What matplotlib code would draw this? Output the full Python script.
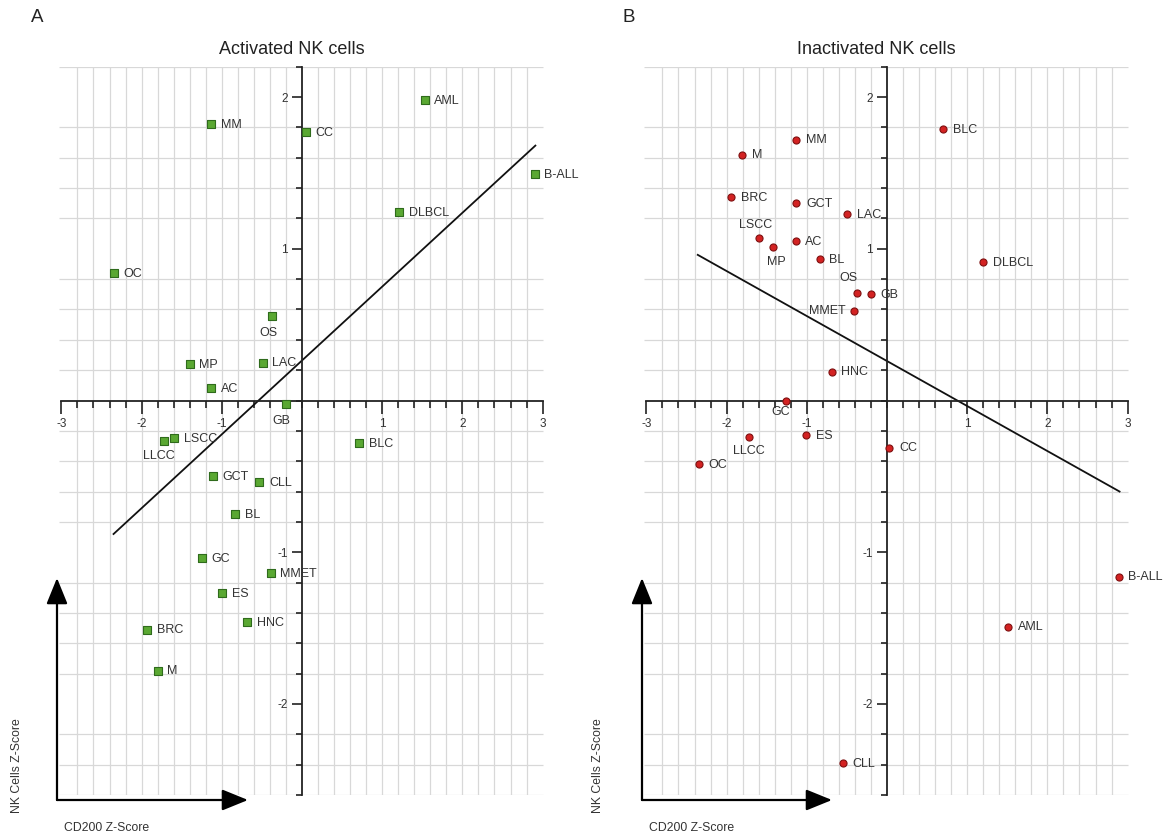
"""
CD200 vs NK cell Z-score scatter plots.

Two panels: activated NK cells (A) and inactivated NK cells (B),
each with a fitted line and a cross-shaped axis through the origin.
"""

import matplotlib
matplotlib.use("Agg")
import matplotlib.pyplot as plt
from matplotlib.ticker import FixedLocator
import numpy as np

plt.rcParams["font.family"] = ["Liberation Sans", "DejaVu Sans"]
plt.rcParams["axes.unicode_minus"] = False

# Panel A - activated NK cells
act_labels = ["AML", "MM", "CC", "B-ALL", "DLBCL", "OC", "OS", "MP", "LAC", "AC",
              "GB", "LLCC", "LSCC", "BLC", "GCT", "CLL", "BL", "GC", "MMET", "ES",
              "HNC", "BRC", "M"]
act_x = [1.53, -1.13, 0.05, 2.90, 1.21, -2.35, -0.37, -1.40, -0.49, -1.13,
         -0.20, -1.72, -1.59, 0.71, -1.11, -0.53, -0.83, -1.25, -0.39, -1.00,
         -0.68, -1.93, -1.80]
act_y = [1.98, 1.82, 1.77, 1.49, 1.24, 0.84, 0.56, 0.24, 0.25, 0.08,
         -0.02, -0.27, -0.25, -0.28, -0.50, -0.54, -0.75, -1.04, -1.14, -1.27,
         -1.46, -1.51, -1.78]
act_fit_x = [-2.35, 2.91]
act_fit_y = [-0.88, 1.68]

# Panel B - inactivated NK cells
inact_labels = ["BLC", "MM", "M", "BRC", "GCT", "LAC", "LSCC", "AC", "MP", "BL",
                "DLBCL", "OS", "GB", "MMET", "HNC", "GC", "ES", "LLCC", "CC", "OC",
                "B-ALL", "AML", "CLL"]
inact_x = [0.70, -1.13, -1.81, -1.94, -1.13, -0.50, -1.60, -1.14, -1.42, -0.84,
           1.20, -0.38, -0.20, -0.41, -0.69, -1.26, -1.01, -1.72, 0.03, -2.35,
           2.89, 1.51, -0.55]
inact_y = [1.79, 1.72, 1.62, 1.34, 1.30, 1.23, 1.07, 1.05, 1.01, 0.93,
           0.91, 0.71, 0.70, 0.59, 0.19, 0.00, -0.23, -0.24, -0.31, -0.42,
           -1.16, -1.49, -2.39]
inact_fit_x = [-2.36, 2.90]
inact_fit_y = [0.96, -0.60]

X_RANGE = (-3.0, 3.0)
Y_RANGE = (-2.6, 2.2)

# label placement tweaks (offset in points, ha, va); default is to the right
ACT_PLACE = {
    "OS": (-3, -8, "center", "top"),
    "GB": (-3, -8, "center", "top"),
    "LLCC": (-4, -6, "center", "top"),
}
INACT_PLACE = {
    "LSCC": (-2, 5, "center", "bottom"),
    "MP": (2, -6, "center", "top"),
    "OS": (-6, 6, "center", "bottom"),
    "MMET": (-6, 0, "right", "center"),
    "GC": (-4, -4, "center", "top"),
    "LLCC": (0, -6, "center", "top"),
}


def style_axes(ax: plt.Axes) -> None:
    """Draw the grid and the cross-shaped axis through the origin."""
    ax.set_xlim(-3.03, 3.03)
    ax.set_ylim(*Y_RANGE)

    grid_x = [v for v in np.round(np.arange(-2.8, 2.81, 0.2), 1) if v != 0]
    grid_y = [v for v in np.round(np.arange(-2.6, 2.21, 0.2), 1) if v != round(v)]
    ax.vlines(grid_x, *Y_RANGE, color="#d8d8d8", lw=0.9, zorder=0)
    ax.hlines(grid_y, -3.03, 3.0, color="#d8d8d8", lw=0.9, zorder=0)

    for side in ("top", "right"):
        ax.spines[side].set_visible(False)
    ax.spines["left"].set_position(("data", 0))
    ax.spines["bottom"].set_position(("data", 0))
    ax.spines["left"].set_bounds(*Y_RANGE)
    ax.spines["bottom"].set_bounds(*X_RANGE)
    for side in ("left", "bottom"):
        ax.spines[side].set_linewidth(1.3)
        ax.spines[side].set_color("#222222")

    ax.xaxis.set_major_locator(FixedLocator([-3, -2, -1, 1, 2, 3]))
    ax.xaxis.set_minor_locator(FixedLocator(np.round(np.arange(-2.8, 2.81, 0.2), 1)))
    ax.yaxis.set_major_locator(FixedLocator([-2, -1, 1, 2]))
    ax.yaxis.set_minor_locator(FixedLocator(np.round(np.arange(-2.6, 2.21, 0.2), 1)))
    ax.xaxis.set_major_formatter(lambda v, pos: f"{v:.0f}")
    ax.yaxis.set_major_formatter(lambda v, pos: f"{v:.0f}")

    ax.tick_params(axis="x", which="major", direction="out", length=9, width=1.2,
                   pad=3.5, labelsize=8.5, colors="#222222", labelcolor="#333333")
    ax.tick_params(axis="x", which="minor", direction="out", length=5, width=1.2,
                   colors="#222222")
    ax.tick_params(axis="y", which="major", direction="out", length=7, width=1.2,
                   pad=3, labelsize=8.5, colors="#222222", labelcolor="#333333")
    ax.tick_params(axis="y", which="minor", direction="out", length=4, width=1.2,
                   colors="#222222")


def plot_panel(ax, labels, xs, ys, fit_x, fit_y, marker, face, edge, place):
    """Scatter one panel with its labels and fitted line."""
    style_axes(ax)
    ax.plot(fit_x, fit_y, color="#111111", lw=1.3, zorder=2)
    ax.scatter(xs, ys, s=26, marker=marker, facecolor=face, edgecolor=edge,
               linewidth=0.8, zorder=4, clip_on=False)
    for lab, x, y in zip(labels, xs, ys):
        dx, dy, ha, va = place.get(lab, (7, -0.5, "left", "center"))
        ax.annotate(lab, (x, y), xytext=(dx, dy), textcoords="offset points",
                    ha=ha, va=va, fontsize=9, color="#333333", zorder=5)


def draw_corner_arrows(fig, x0: float, tip_y: float, tip_x: float, base_y: float):
    """Axis-direction arrows in the bottom-left corner (figure pixels)."""
    style = "-|>,head_length=1.6,head_width=0.65"
    for tip in ((x0, tip_y), (tip_x, base_y)):
        fig.add_artist(matplotlib.patches.FancyArrowPatch(
            (x0, base_y), tip, transform=None, arrowstyle=style,
            mutation_scale=10, lw=1.6, color="black", shrinkA=0, shrinkB=0))


def main():
    W, H = 1168, 838
    fig = plt.figure(figsize=(W / 100, H / 100), dpi=100)

    top_px, bottom_px = 66.7, 795.0
    ax_a = fig.add_axes([59 / W, 1 - bottom_px / H, 486 / W, (bottom_px - top_px) / H])
    ax_b = fig.add_axes([644 / W, 1 - bottom_px / H, 486 / W, (bottom_px - top_px) / H])
    for ax in (ax_a, ax_b):
        ax.patch.set_visible(False)

    plot_panel(ax_a, act_labels, act_x, act_y, act_fit_x, act_fit_y,
               "s", "#5aa832", "#2f6b1c", ACT_PLACE)
    plot_panel(ax_b, inact_labels, inact_x, inact_y, inact_fit_x, inact_fit_y,
               "o", "#d32222", "#7e1010", INACT_PLACE)

    fig.text(292 / W, 1 - 50 / H, "Activated NK cells", ha="center", va="center",
             fontsize=13, color="#222222")
    fig.text(876 / W, 1 - 50 / H, "Inactivated NK cells", ha="center", va="center",
             fontsize=13, color="#222222")
    fig.text(37 / W, 1 - 17 / H, "A", ha="center", va="center", fontsize=13.5,
             color="#222222")
    fig.text(629 / W, 1 - 17 / H, "B", ha="center", va="center", fontsize=13.5,
             color="#222222")

    for x0, tip_x, ylab_x in ((57, 248, 17), (642, 832, 598)):
        draw_corner_arrows(fig, x0, H - 578, tip_x, H - 800)
        fig.text(ylab_x / W, 1 - 766 / H, "NK Cells Z-Score", rotation=90,
                 ha="center", va="center", fontsize=8.8, color="#333333")
        fig.text((x0 + 7) / W, 1 - 828 / H, "CD200 Z-Score", ha="left",
                 va="center", fontsize=8.8, color="#333333")

    fig.savefig("out.png", dpi=100)


if __name__ == "__main__":
    main()
